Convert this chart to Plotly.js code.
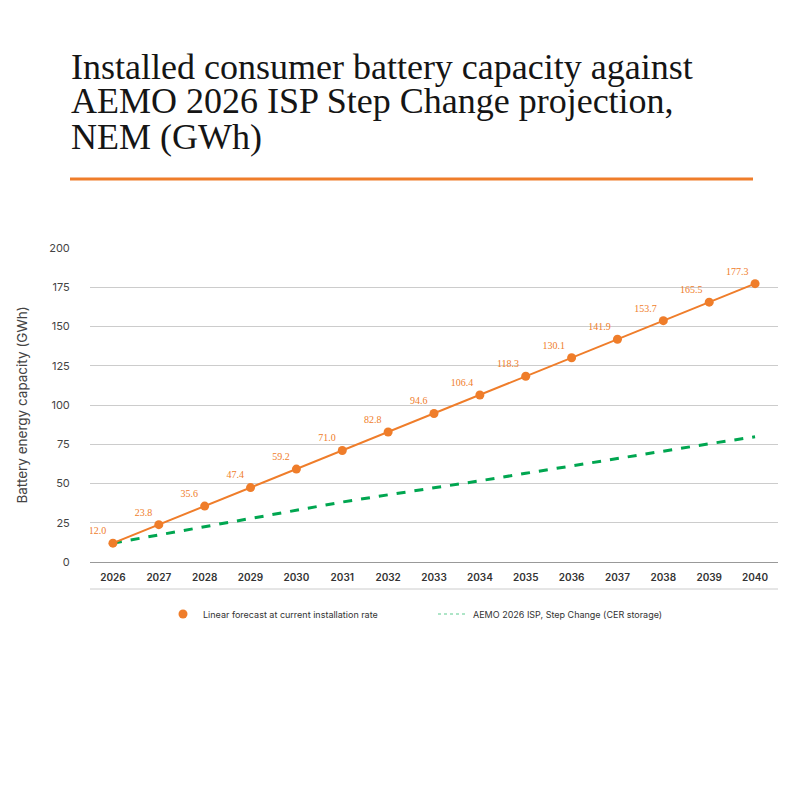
<!DOCTYPE html>
<html>
<head>
<meta charset="utf-8">
<script src="https://cdn.plot.ly/plotly-3.0.1.min.js"></script>
<style>
  body { margin: 0; background: #fff; }
  #chart { width: 800px; height: 800px; }
</style>
</head>
<body>
<div id="chart"></div>
<script>
// years on the x axis
let years = ["2026", "2027", "2028", "2029", "2030", "2031", "2032", "2033",
             "2034", "2035", "2036", "2037", "2038", "2039", "2040"]

// linear forecast at current installation rate (GWh)
let linearForecast = [12.0, 23.8, 35.6, 47.4, 59.2, 71.0, 82.8, 94.6,
                      106.4, 118.3, 130.1, 141.9, 153.7, 165.5, 177.3]

// AEMO 2026 ISP Step Change, CER storage (GWh)
let aemoStepChange = [12.0, 17.3, 22.5, 28.0, 33.3, 38.2, 42.8, 47.2,
                      51.7, 56.5, 61.3, 66.1, 70.8, 75.3, 79.8]

let titleLines = ["Installed consumer battery capacity against",
                  "AEMO 2026 ISP Step Change projection,",
                  "NEM (GWh)"]

let orange = "#EF7D2A"
let green = "#00A650"

// plot area: y=0 at 562px, y=200 at 248px
function paperY(px) { return (562 - px) / 314 }
function paperX(px) { return (px - 90) / 688 }

let data = [
    {
        x: years,
        y: aemoStepChange,
        type: "scatter",
        mode: "lines",
        line: { color: green, width: 3, dash: "dash" },
        showlegend: false,
        hoverinfo: "skip"
    },
    {
        x: years,
        y: linearForecast,
        type: "scatter",
        mode: "lines",
        line: { color: orange, width: 2 },
        showlegend: false,
        hoverinfo: "skip"
    },
    {
        x: years,
        y: linearForecast,
        type: "scatter",
        mode: "markers+text",
        name: "Linear forecast at current installation rate",
        marker: { color: orange, size: 9 },
        text: linearForecast.map(v => v.toFixed(1)),
        textposition: "top left",
        textfont: { family: "Liberation Serif, serif", size: 10, color: orange }
    },
    {
        // legend entry only
        x: [null],
        y: [null],
        type: "scatter",
        mode: "lines",
        name: "AEMO 2026 ISP, Step Change (CER storage)",
        line: { color: "#5CCB8F", width: 1, dash: "dot" }
    }
]

let annotations = titleLines.map((t, i) => ({
    text: t,
    xref: "paper", yref: "paper",
    x: paperX(69), y: paperY([67, 101, 137][i]),
    xanchor: "left", yanchor: "middle",
    showarrow: false,
    font: { family: "Liberation Serif, serif", size: 36, color: "#151515" }
}))

let layout = {
    width: 800,
    height: 800,
    margin: { l: 90, r: 22, t: 248, b: 238 },
    paper_bgcolor: "#fff",
    plot_bgcolor: "#fff",
    font: { family: "Inter, sans-serif", color: "#444" },
    xaxis: {
        type: "category",
        range: [-0.5, 14.5],
        showgrid: false,
        ticks: "outside",
        ticklen: 6,
        tickcolor: "rgba(0,0,0,0)",
        tickfont: { family: "Inter, sans-serif", size: 10, color: "#333", weight: 600 },
        fixedrange: true
    },
    yaxis: {
        range: [0, 200],
        dtick: 25,
        gridcolor: "#cccccc",
        gridwidth: 1,
        zeroline: true,
        zerolinecolor: "#999999",
        zerolinewidth: 1,
        ticks: "outside",
        ticklen: 17,
        tickcolor: "rgba(0,0,0,0)",
        tickfont: { family: "Inter, sans-serif", size: 11, color: "#444" },
        title: {
            text: "Battery energy capacity (GWh)",
            font: { family: "Inter, sans-serif", size: 13.5, color: "#444" },
            standoff: 18
        },
        fixedrange: true
    },
    showlegend: true,
    legend: {
        orientation: "h",
        x: paperX(163), xanchor: "left",
        y: paperY(614), yanchor: "middle",
        entrywidth: 225,
        font: { family: "Inter, sans-serif", size: 9, color: "#333" }
    },
    annotations: annotations,
    shapes: [
        {
            // orange rule under the title
            type: "line", xref: "paper", yref: "paper",
            x0: paperX(70), x1: paperX(753),
            y0: paperY(179), y1: paperY(179),
            line: { color: orange, width: 3 }
        },
        {
            // rule under the year labels
            type: "line", xref: "paper", yref: "paper",
            x0: 0, x1: 1,
            y0: paperY(589), y1: paperY(589),
            line: { color: "#cccccc", width: 1 }
        }
    ]
}

Plotly.newPlot("chart", data, layout, { displayModeBar: false, staticPlot: true })
</script>
</body>
</html>
